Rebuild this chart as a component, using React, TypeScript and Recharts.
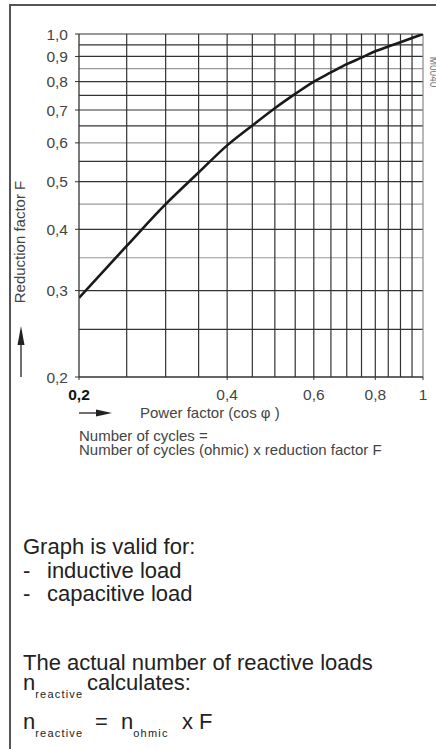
import React from 'react';
import { LineChart, Line, XAxis, YAxis, ReferenceLine } from 'recharts';

// curve
const powerFactor = [0.2, 0.25, 0.3, 0.35, 0.4, 0.45, 0.5, 0.55, 0.6, 0.65, 0.7, 0.75, 0.8, 0.85, 0.9, 0.95, 1.0];
const reductionFactor = [
  0.29, 0.37, 0.45, 0.522, 0.593, 0.651, 0.706, 0.755, 0.8, 0.835, 0.868, 0.895, 0.922, 0.943, 0.962, 0.981, 1.0,
];

const xTicks = [0.2, 0.4, 0.6, 0.8, 1];
const yTicks = [0.2, 0.3, 0.4, 0.5, 0.6, 0.7, 0.8, 0.9, 1.0];

const xGrid = [0.25, 0.3, 0.35, 0.4, 0.45, 0.5, 0.55, 0.6, 0.65, 0.7, 0.75, 0.8, 0.85, 0.9, 0.95, 1.0];
const yGrid = [0.25, 0.3, 0.35, 0.4, 0.45, 0.5, 0.55, 0.6, 0.65, 0.7, 0.75, 0.8, 0.85, 0.9, 0.95, 1.0];
const yGridLight = [0.35, 0.45, 0.6, 0.85];

const data = powerFactor.map((x, i) => ({ x, f: reductionFactor[i] }));

const sans = '"Liberation Sans", Arial, sans-serif';
const labelColor = '#444';

const XTick = (props: any) => {
  const { x, y, payload } = props;
  const v = payload.value;
  const label = v === 1 ? '1' : String(v).replace('.', ',');
  return (
    <text
      x={x}
      y={y + 18}
      textAnchor="middle"
      fontFamily={sans}
      fontSize={15.5}
      fontWeight={v === 0.2 ? 'bold' : 'normal'}
      fill={v === 0.2 ? '#111' : labelColor}
    >
      {label}
    </text>
  );
};

const YTick = (props: any) => {
  const { x, y, payload } = props;
  const v = payload.value;
  const label = v.toFixed(1).replace('.', ',');
  return (
    <text x={x - 5} y={y + 5.5} textAnchor="end" fontFamily={sans} fontSize={15.5} fill={labelColor}>
      {label}
    </text>
  );
};

const Sub = ({ children }: { children: React.ReactNode }) => (
  <span style={{ fontSize: 11, letterSpacing: 1.2, position: 'relative', top: 8 }}>{children}</span>
);

const line = (left: number, top: number, content: React.ReactNode) => (
  <div style={{ position: 'absolute', left, top, whiteSpace: 'nowrap' }}>{content}</div>
);

export default function App() {
  return (
    <div
      style={{
        position: 'absolute',
        left: 0,
        top: 0,
        width: 436,
        height: 749,
        background: '#fff',
        overflow: 'hidden',
        color: '#222',
      }}
    >
      {/* frame */}
      <div style={{ position: 'absolute', left: 9, top: 4, width: 1.5, height: 745, background: '#555' }} />
      <div style={{ position: 'absolute', left: 9, top: 4, width: 427, height: 1.5, background: '#555' }} />

      <div style={{ position: 'absolute', left: 0, top: 0 }}>
        <LineChart width={436} height={420} data={data} margin={{ top: 34, right: 13, left: 0, bottom: 0 }}>
          <XAxis
            dataKey="x"
            type="number"
            scale="log"
            domain={[0.2, 1]}
            ticks={xTicks}
            interval={0}
            allowDataOverflow
            height={43}
            tickSize={3}
            axisLine={{ stroke: '#333', strokeWidth: 1.3 }}
            tickLine={{ stroke: '#333' }}
            tick={<XTick />}
          />
          <YAxis
            type="number"
            scale="log"
            domain={[0.2, 1]}
            ticks={yTicks}
            interval={0}
            allowDataOverflow
            width={79}
            tickSize={4}
            axisLine={{ stroke: '#333', strokeWidth: 1.3 }}
            tickLine={{ stroke: '#333' }}
            tick={<YTick />}
          />
          {yGrid.map((v) => (
            <ReferenceLine
              key={'h' + v}
              y={v}
              stroke={yGridLight.includes(v) ? '#999' : '#333'}
              strokeWidth={1.2}
            />
          ))}
          {xGrid.map((v) => (
            <ReferenceLine key={'v' + v} x={v} stroke={v === 1 ? '#888' : '#333'} strokeWidth={1.2} />
          ))}
          <Line
            dataKey="f"
            type="monotone"
            stroke="#1a1a1a"
            strokeWidth={2.6}
            dot={false}
            isAnimationActive={false}
          />
        </LineChart>
      </div>

      {/* axis captions and arrows */}
      <svg width={436} height={470} style={{ position: 'absolute', left: 0, top: 0 }}>
        <text
          transform="translate(25 242) rotate(-90)"
          textAnchor="middle"
          fontFamily={sans}
          fontSize={15}
          fill={labelColor}
        >
          Reduction factor F
        </text>
        <line x1={21} y1={377} x2={21} y2={340} stroke="#222" strokeWidth={1.3} />
        <polygon points="21,326 17.5,345 24.5,345" fill="#222" />

        <line x1={79} y1={413} x2={100} y2={413} stroke="#222" strokeWidth={1.3} />
        <polygon points="112,413 96,409.5 96,416.5" fill="#222" />
        <text x={140} y={418} fontFamily={sans} fontSize={15} fill={labelColor}>
          Power factor (cos φ )
        </text>
        <text x={79} y={441} fontFamily={sans} fontSize={15} fill={labelColor}>
          Number of cycles =
        </text>
        <text x={79} y={455} fontFamily={sans} fontSize={15} fill={labelColor}>
          Number of cycles (ohmic) x reduction factor F
        </text>
        <text
          transform="translate(430 72) rotate(90)"
          textAnchor="middle"
          fontFamily={sans}
          fontSize={10}
          fill="#777"
        >
          M0040
        </text>
      </svg>

      {/* notes */}
      <div style={{ position: 'absolute', left: 0, top: 0, fontFamily: sans, fontSize: 22, lineHeight: '19px' }}>
        {line(23, 537, 'Graph is valid for:')}
        {line(23, 561, '-')}
        {line(47, 561, 'inductive load')}
        {line(23, 584, '-')}
        {line(47, 584, 'capacitive load')}
        {line(23, 653, 'The actual number of reactive loads')}
        {line(23, 673, <>n<Sub>reactive</Sub></>)}
        {line(87, 673, 'calculates:')}
        {line(23, 712, <>n<Sub>reactive</Sub></>)}
        {line(95, 712, '=')}
        {line(121, 712, <>n<Sub>ohmic</Sub></>)}
        {line(182, 712, 'x F')}
      </div>
    </div>
  );
}
